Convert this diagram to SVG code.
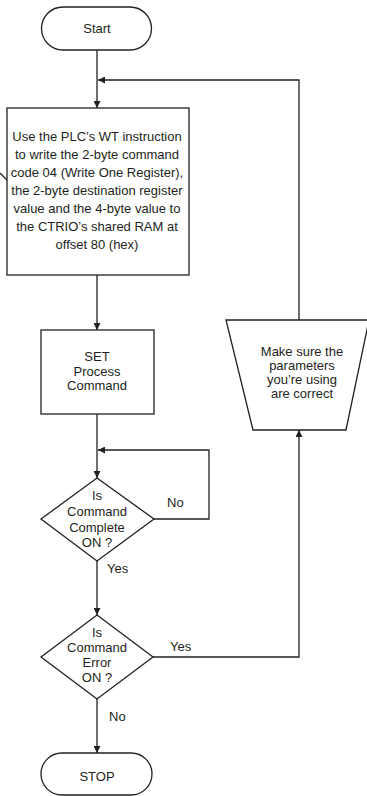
<svg xmlns="http://www.w3.org/2000/svg" width="367" height="796" viewBox="0 0 367 796">
<style>
.s{fill:#fff;stroke:#231f20;stroke-width:1.3}
.c{fill:none;stroke:#231f20;stroke-width:1.3}
text{font-family:"Liberation Sans",Arial,sans-serif;font-size:13px;fill:#231f20;text-anchor:middle}
.l{text-anchor:start}
</style>
<defs>
<marker id="a" viewBox="0 0 10 10" refX="10" refY="5" markerWidth="7" markerHeight="7" markerUnits="userSpaceOnUse" orient="auto">
<path d="M0,0 L10,5 L0,10 Z" fill="#231f20"/>
</marker>
</defs>
<g id="connectors">
<path class="c" d="M97,50 V108" marker-end="url(#a)"/>
<path class="c" d="M299,320 V80 H98" marker-end="url(#a)"/>
<path class="c" d="M97,275 V330" marker-end="url(#a)"/>
<path class="c" d="M97,414 V478" marker-end="url(#a)"/>
<path class="c" d="M154,519 H209 V450 H98" marker-end="url(#a)"/>
<path class="c" d="M97,561 V615" marker-end="url(#a)"/>
<path class="c" d="M153,657 H299 V430" marker-end="url(#a)"/>
<path class="c" d="M97,699 V753" marker-end="url(#a)"/>
<path class="c" d="M0,173 L7,180"/>
<text class="l" x="167" y="507">No</text>
<text class="l" x="107" y="573">Yes</text>
<text class="l" x="170" y="651">Yes</text>
<text class="l" x="109" y="721">No</text>
</g>
<g id="start">
<rect class="s" x="41.5" y="7" width="110" height="43" rx="21.5"/>
<text x="97" y="33">Start</text>
</g>
<g id="write">
<rect class="s" x="7" y="108" width="182" height="167"/>
<text x="97" y="141">Use the PLC’s WT instruction</text>
<text x="97" y="159">to write the 2-byte command</text>
<text x="97" y="177">code 04 (Write One Register),</text>
<text x="97" y="195">the 2-byte destination register</text>
<text x="97" y="213">value and the 4-byte value to</text>
<text x="97" y="231">the CTRIO’s shared RAM at</text>
<text x="97" y="249">offset 80 (hex)</text>
</g>
<g id="set">
<rect class="s" x="41" y="330" width="113" height="84"/>
<text x="97" y="361">SET</text>
<text x="97" y="376">Process</text>
<text x="97" y="390">Command</text>
</g>
<g id="complete">
<path class="s" d="M97,478 L154,519 L97,561 L41,519 Z"/>
<text x="97" y="500">Is</text>
<text x="97" y="516">Command</text>
<text x="97" y="532">Complete</text>
<text x="97" y="547">ON ?</text>
</g>
<g id="error">
<path class="s" d="M97,615 L153,657 L97,699 L41,657 Z"/>
<text x="97" y="637">Is</text>
<text x="97" y="652">Command</text>
<text x="97" y="667">Error</text>
<text x="97" y="682">ON ?</text>
</g>
<g id="check">
<path class="s" d="M226,320 L369,320 L346,430 L253,430 Z"/>
<text x="302" y="356">Make sure the</text>
<text x="302" y="370">parameters</text>
<text x="302" y="384">you’re using</text>
<text x="302" y="398">are correct</text>
</g>
<g id="stop">
<rect class="s" x="41" y="753" width="111" height="42" rx="21"/>
<text x="97" y="781">STOP</text>
</g>
</svg>
